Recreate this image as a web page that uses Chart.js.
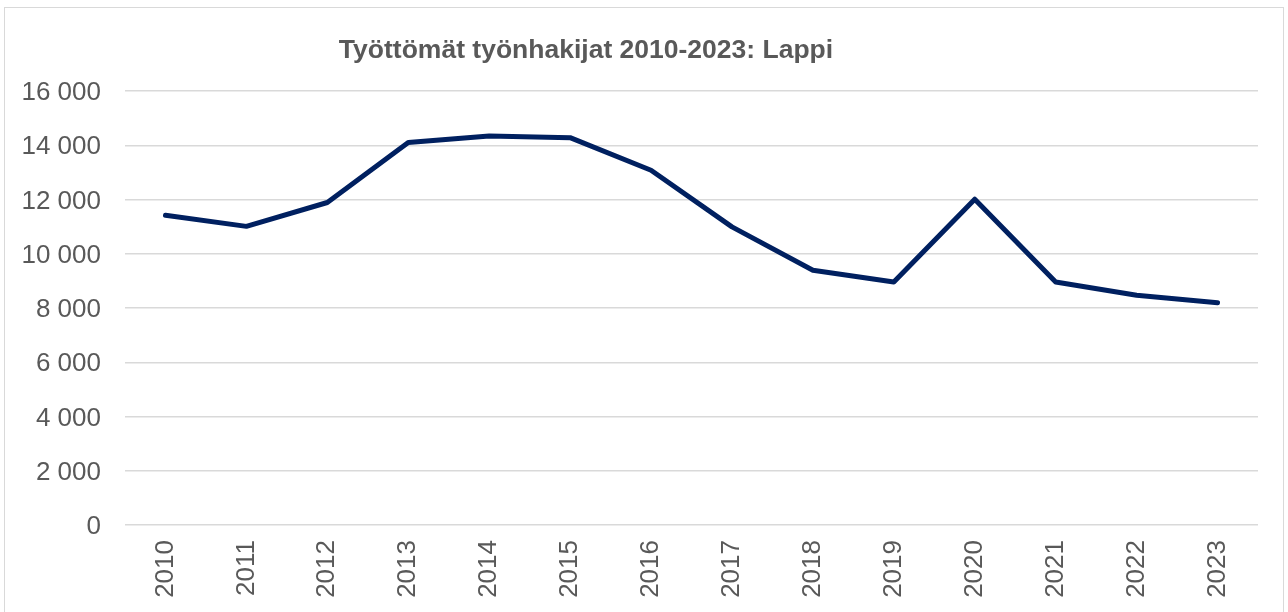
<!DOCTYPE html>
<html>
<head>
<meta charset="utf-8">
<script src="https://cdn.jsdelivr.net/npm/chart.js@4"></script>
<style>
  html, body { margin: 0; padding: 0; background: #fff; }
  #wrap { position: relative; width: 1288px; height: 612px; overflow: hidden; }
  #frame { position: absolute; left: 4px; top: 7px; width: 1280px; height: 640px; border: 1px solid #d9d9d9; box-sizing: border-box; }
  #c { position: absolute; left: 0; top: 0; }
</style>
</head>
<body>
<div id="wrap">
  <div id="frame"></div>
  <canvas id="c" width="1288" height="612"></canvas>
</div>
<script>
const titleText = "Työttömät työnhakijat 2010-2023: Lappi";
const years = ["2010","2011","2012","2013","2014","2015","2016","2017","2018","2019","2020","2021","2022","2023"];
const unemployed = [11420, 11010, 11890, 14100, 14340, 14280, 13080, 10990, 9390, 8960, 12010, 8960, 8470, 8190];
const yTicks = [0, 2000, 4000, 6000, 8000, 10000, 12000, 14000, 16000];

const FONT = "'Liberation Sans', Arial, sans-serif";
const GREY = "#595959";

const fmt = v => String(v).replace(/\B(?=(\d{3})+(?!\d))/g, " ");

const titlePlugin = {
  id: "customTitle",
  afterDraw(chart) {
    const ctx = chart.ctx;
    ctx.save();
    ctx.font = "bold 26.5px " + FONT;
    ctx.fillStyle = GREY;
    ctx.textAlign = "center";
    ctx.textBaseline = "alphabetic";
    ctx.fillText(titleText, 586, 58);
    ctx.restore();
  }
};

new Chart(document.getElementById("c"), {
  type: "line",
  data: {
    labels: years,
    datasets: [{
      label: titleText,
      data: unemployed,
      borderColor: "#002060",
      backgroundColor: "#002060",
      borderWidth: 5,
      pointRadius: 0,
      tension: 0,
      borderCapStyle: "round",
      borderJoinStyle: "round",
      fill: false
    }]
  },
  options: {
    responsive: false,
    animation: false,
    devicePixelRatio: 1,
    layout: { padding: { top: 91, left: 0, right: 30, bottom: 0 } },
    plugins: { legend: { display: false }, title: { display: false }, tooltip: { enabled: false } },
    scales: {
      x: {
        offset: true,
        grid: { display: false, drawTicks: false },
        border: { display: false },
        ticks: {
          color: GREY,
          font: { family: FONT, size: 26 },
          maxRotation: 90,
          minRotation: 90,
          padding: 15,
          autoSkip: false
        },
        afterFit(s) { s.height = 87; }
      },
      y: {
        min: 0,
        max: 16000,
        afterBuildTicks(s) { s.ticks = yTicks.map(v => ({ value: v })); },
        grid: { color: "#d9d9d9", lineWidth: 1.5, drawTicks: false },
        border: { display: false },
        ticks: {
          color: GREY,
          font: { family: FONT, size: 26 },
          padding: 24,
          labelOffset: 2,
          callback: v => fmt(v)
        },
        afterFit(s) { s.width = 125; }
      }
    }
  },
  plugins: [titlePlugin]
});
</script>
</body>
</html>
